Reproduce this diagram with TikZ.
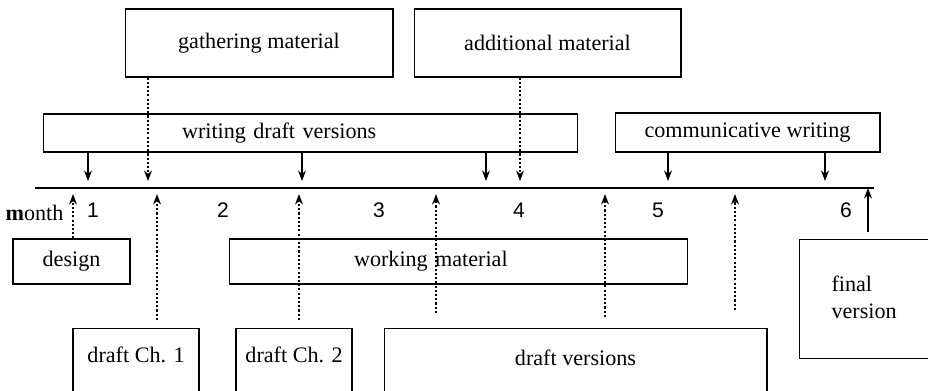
\documentclass[tikz,border=0pt]{standalone}
\usepackage{fontspec}
\setmainfont{Liberation Serif}
\newfontfamily\numfont{Liberation Sans}
\usetikzlibrary{arrows.meta}

\tikzset{
  box/.style={draw, line width=0.6pt, inner sep=0pt},
  timeline/.style={line width=1.2pt},
  push/.style={line width=0.6pt, -{Stealth[length=6pt, width=4.5pt]}},
  hint/.style={line width=0.8pt, dash pattern=on 1.2pt off 1.2pt,
    -{Stealth[length=6pt, width=4.5pt]}},
  num/.style={font=\numfont\fontsize{12}{14}\selectfont}
}

\begin{document}
\begin{tikzpicture}[x=0.02cm, y=-0.02cm, font=\fontsize{12.6}{15.4}\selectfont]
  \useasboundingbox (0,0) rectangle (928,391);
  \clip (0,0) rectangle (928,391);

  % the time line and the months
  \coordinate (tl) at (35,188);
  \coordinate (tr) at (874,188);
  \draw[timeline] (tl) -- (tr);
  \node (month) at (34.5,213) {\textbf{m}onth};
  \foreach \n/\x in {1/93, 2/223, 3/379, 4/519, 5/658, 6/846}
    \node[num] (m\n) at (\x,210) {\n};

  % activities above the line
  \node[box, minimum width=5.36cm, minimum height=1.36cm] (gather) at (259,43) {gathering material};
  \node[box, minimum width=5.34cm, minimum height=1.36cm] (addit) at (547.5,43) {additional material};
  \node[box, minimum height=0.76cm, inner xsep=2.78cm, text width=5.14cm, align=left]
    (writing) at (310.5,133) {writing draft versions};
  \node[box, minimum width=5.3cm, minimum height=0.78cm] (commun) at (747.5,132.5) {communicative writing};

  % activities and products below the line
  \node[box, minimum width=2.34cm, minimum height=0.9cm] (design) at (71.5,261.5) {design};
  \node[box, minimum height=0.9cm, inner xsep=2.5cm, text width=4.18cm, align=left]
    (working) at (458.5,261.5) {working material};
  \node[box, anchor=north, minimum width=2.52cm, text height=0.68cm, text depth=1.2cm]
    (ch1) at (136,328) {draft Ch. 1};
  \node[box, anchor=north, minimum width=2.32cm, text height=0.68cm, text depth=1.2cm]
    (ch2) at (294,328) {draft Ch. 2};
  \node[box, anchor=north, minimum width=7.66cm, text height=0.74cm, text depth=1.2cm]
    (drafts) at (575.5,328) {draft versions};
  \node[box, anchor=north west, inner xsep=0.64cm, text width=1.92cm, align=left,
    text height=1.04cm, text depth=1.34cm] (final) at (799,239) {final\\version};

  % arrow ends on the time line
  \foreach \n/\x in {w1/88, w2/302, w3/486, g1/148, a1/520, c1/668, c2/825}
    \coordinate (\n) at (\x,181);
  \foreach \n/\x in {d1/73, h1/157, h2/299, u1/436, v1/605, u2/735}
    \coordinate (\n) at (\x,194);
  \coordinate (f1) at (868,188);
  \coordinate (s1) at (436,313);
  \coordinate (s2) at (735,310);

  \foreach \t in {w1,w2,w3}
    \draw[push] (writing.south -| \t) -- (\t);
  \foreach \t in {c1,c2}
    \draw[push] (commun.south -| \t) -- (\t);
  \draw[hint] (gather.south -| g1) -- (g1);
  \draw[hint] (addit.south -| a1) -- (a1);

  \draw[hint] (design.north -| d1) -- (d1);
  \draw[hint, shorten <=0.16cm] (ch1.north -| h1) -- (h1);
  \draw[hint, shorten <=0.16cm] (ch2.north -| h2) -- (h2);
  \draw[hint, shorten <=0.22cm] (drafts.north -| v1) -- (v1);
  \draw[hint] (s1) -- (u1);
  \draw[hint] (s2) -- (u2);
  \draw[push, shorten <=0.14cm] (final.north -| f1) -- (f1);
\end{tikzpicture}
\end{document}
